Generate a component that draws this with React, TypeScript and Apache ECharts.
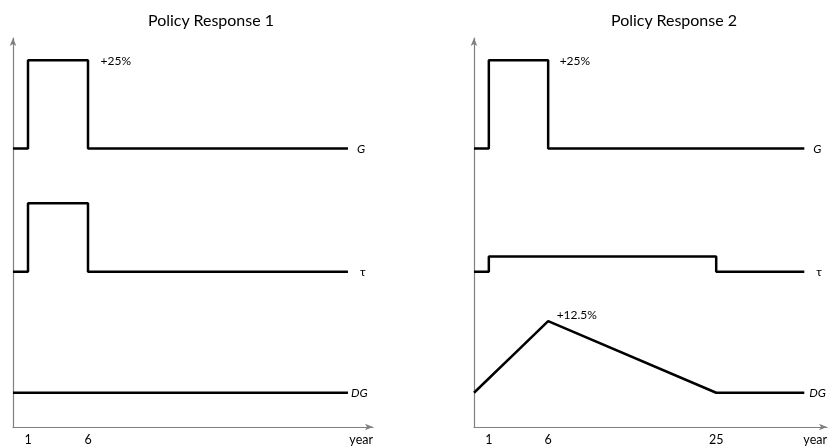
import React, { useEffect, useRef } from "react";
import * as echarts from "echarts";

// Schematic, piecewise time axis (years -> axis units)
const knotYears1 = [0, 1, 6, 30];
const knotUnits1 = [0, 1, 5, 22.33];
const knotYears2 = [0, 1, 6, 25, 30];
const knotUnits2 = [0, 1, 5, 16.33, 22.27];

const tickYears1 = [1, 6];
const tickYears2 = [1, 6, 25];

// Policy Response 1 (schematic levels)
const g1: [number, number][] = [[0, 71.6], [1, 71.6], [1, 94.3], [6, 94.3], [6, 71.6], [30, 71.6]];
const tau1: [number, number][] = [[0, 39.9], [1, 39.9], [1, 57.5], [6, 57.5], [6, 39.9], [30, 39.9]];
const dg1: [number, number][] = [[0, 8.8], [30, 8.8]];

// Policy Response 2
const g2: [number, number][] = [[0, 71.6], [1, 71.6], [1, 94.3], [6, 94.3], [6, 71.6], [30, 71.6]];
const tau2: [number, number][] = [[0, 39.9], [1, 39.9], [1, 43.8], [25, 43.8], [25, 39.9], [30, 39.9]];
const dg2: [number, number][] = [[0, 8.8], [6, 27.2], [25, 8.8], [30, 8.8]];

const titles = ["Policy Response 1", "Policy Response 2"];

const FONT = "Lato";

function mapper(ys: number[], us: number[]) {
  return (y: number) => {
    for (let i = 0; i < ys.length - 1; i++) {
      if (y <= ys[i + 1]) {
        const t = (y - ys[i]) / (ys[i + 1] - ys[i]);
        return us[i] + t * (us[i + 1] - us[i]);
      }
    }
    return us[us.length - 1];
  };
}

export default function App() {
  const ref = useRef<HTMLDivElement>(null);
  useEffect(() => {
    if (!ref.current) return;
    const chart = echarts.init(ref.current, null, { renderer: "svg" });
    const m1 = mapper(knotYears1, knotUnits1);
    const m2 = mapper(knotYears2, knotUnits2);

    const lineStyle = { color: "#000", width: 2.5 };

    const mk = (
      name: string,
      data: [number, number][],
      m: (y: number) => number,
      idx: number,
      endText: string,
      endDist: number,
      italic: boolean,
      pointLabel?: { at: number; text: string; distance: number; offset: number[] }
    ) => ({
      type: "line",
      name,
      xAxisIndex: idx,
      yAxisIndex: idx,
      symbol: "none",
      silent: true,
      lineStyle,
      itemStyle: { color: "#000" },
      data: data.map((d) => [m(d[0]), d[1]]),
      markPoint: pointLabel
        ? {
            silent: true,
            animation: false,
            data: [
              {
                coord: [m(data[pointLabel.at][0]), data[pointLabel.at][1]],
                symbol: "circle",
                symbolSize: 1,
                itemStyle: { color: "rgba(0,0,0,0)" },
                label: {
                  show: true,
                  position: "right",
                  distance: pointLabel.distance,
                  offset: pointLabel.offset,
                  formatter: pointLabel.text,
                  color: "#000",
                  fontFamily: FONT,
                  fontSize: 12,
                },
              },
            ],
          }
        : undefined,
      endLabel: {
        show: true,
        formatter: endText,
        distance: endDist,
        color: "#000",
        fontFamily: FONT,
        fontSize: 12,
        fontStyle: italic ? "italic" : "normal",
      },
    });

    const axisLine = {
      show: true,
      symbol: ["none", "arrow"],
      symbolSize: [5, 8],
      lineStyle: { color: "#808080", width: 1.2 },
    };

    const xAxis = (idx: number, max: number, ticks: number[], m: (y: number) => number) => ({
      type: "value",
      gridIndex: idx,
      min: 0,
      max,
      axisLine,
      axisTick: { show: false },
      splitLine: { show: false },
      name: "year",
      nameLocation: "end",
      nameGap: 0,
      nameTextStyle: {
        align: "right",
        verticalAlign: "top",
        padding: [6, 0, 0, 0],
        fontFamily: FONT,
        fontSize: 12.5,
        color: "#000",
      },
      axisLabel: {
        customValues: ticks.map(m),
        formatter: (v: number) => {
          const t = ticks.find((y) => Math.abs(m(y) - v) < 1e-6);
          return t === undefined ? "" : String(t);
        },
        margin: 6,
        fontFamily: FONT,
        fontSize: 12.5,
        color: "#000",
      },
    });

    const yAxis = (idx: number) => ({
      type: "value",
      gridIndex: idx,
      min: 0,
      max: 100,
      axisLine,
      axisTick: { show: false },
      axisLabel: { show: false },
      splitLine: { show: false },
    });

    chart.setOption({
      animation: false,
      title: [
        {
          text: titles[0],
          left: 206,
          top: 6,
          textAlign: "center",
          textStyle: { fontFamily: FONT, fontSize: 16, fontWeight: "normal", color: "#000" },
        },
        {
          text: titles[1],
          left: 669,
          top: 6,
          textAlign: "center",
          textStyle: { fontFamily: FONT, fontSize: 16, fontWeight: "normal", color: "#000" },
        },
      ],
      grid: [
        { left: 13, top: 38, width: 360, height: 389 },
        { left: 474, top: 38, width: 357, height: 389 },
      ],
      xAxis: [xAxis(0, 24, tickYears1, m1), xAxis(1, 23.8, tickYears2, m2)],
      yAxis: [yAxis(0), yAxis(1)],
      series: [
        mk("G1", g1, m1, 0, "G", 9, true, { at: 3, text: "+25%", distance: 12, offset: [0, 0] }),
        mk("tau1", tau1, m1, 0, "τ", 12, false),
        mk("DG1", dg1, m1, 0, "DG", 3, true),
        mk("G2", g2, m2, 1, "G", 9, true, { at: 3, text: "+25%", distance: 11, offset: [0, 0] }),
        mk("tau2", tau2, m2, 1, "τ", 12, false),
        mk("DG2", dg2, m2, 1, "DG", 5, true, { at: 1, text: "+12.5%", distance: 8, offset: [0, -7] }),
      ],
    });
    return () => chart.dispose();
  }, []);
  return (
    <div
      ref={ref}
      style={{ position: "fixed", left: 0, top: 0, width: 830, height: 448 }}
    />
  );
}
